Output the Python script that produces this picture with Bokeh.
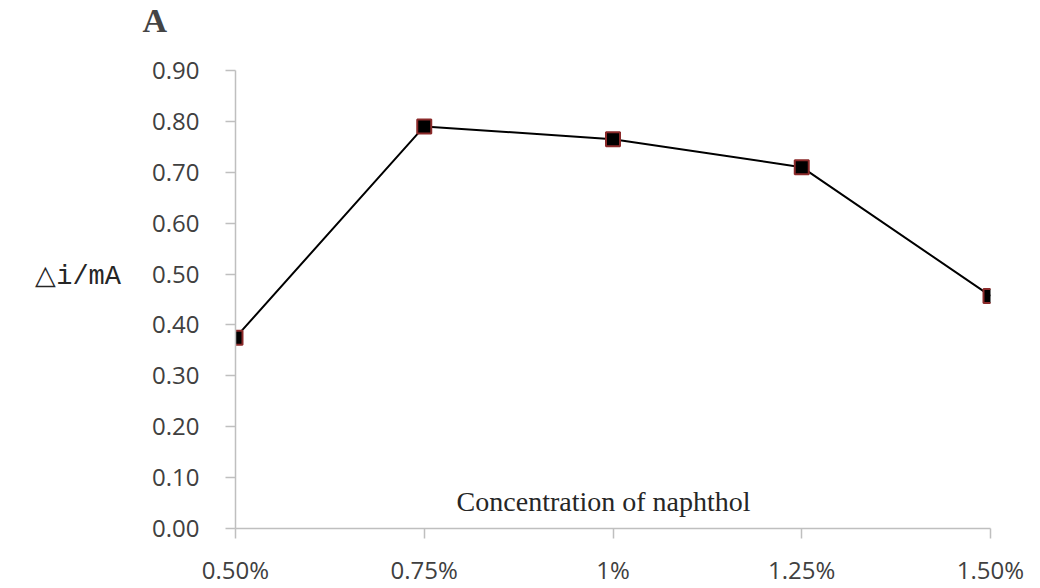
from bokeh.plotting import figure
from bokeh.models import Range1d, FixedTicker, Label
from bokeh.embed import file_html
from bokeh.resources import INLINE

categories = ["0.50%", "0.75%", "1%", "1.25%", "1.50%"]
delta_i = [0.375, 0.79, 0.765, 0.71, 0.457]
y_ticks = [0.0, 0.1, 0.2, 0.3, 0.4, 0.5, 0.6, 0.7, 0.8, 0.9]

xs = list(range(len(categories)))

# layout: frame extends above the top tick so the title can sit higher
frame_top, axis_top, frame_bottom = 40, 70, 529
y_max = y_ticks[-1] * (frame_bottom - frame_top) / (frame_bottom - axis_top)

p = figure(width=1024, height=588, output_backend="svg", toolbar_location=None,
           x_range=Range1d(0, len(categories) - 1), y_range=Range1d(0, y_max),
           min_border_left=235, min_border_right=34, min_border_top=frame_top,
           min_border_bottom=588 - frame_bottom)
p.outline_line_color = None
p.xgrid.grid_line_color = None
p.ygrid.grid_line_color = None
p.background_fill_color = "white"

p.title.text = "A"
p.title.text_font = "Liberation Serif"
p.title.text_font_style = "bold"
p.title.text_font_size = "34px"
p.title.align = "left"
p.title.vertical_align = "top"
p.title.offset = -93
p.title.standoff = 0

p.line(xs, delta_i, line_color="black", line_width=2)
p.scatter(xs, delta_i, marker="square", size=14, fill_color="black",
          line_color="#8b2a2a", line_width=2)

for ax in (p.xaxis[0], p.yaxis[0]):
    ax.axis_line_color = "#bfbfbf"
    ax.axis_line_width = 1.5
    ax.major_tick_line_color = "#bfbfbf"
    ax.major_tick_line_width = 1.5
    ax.major_tick_out = 10
    ax.major_tick_in = 0
    ax.minor_tick_line_color = None
    ax.major_label_text_font = "Open Sans"
    ax.major_label_text_font_size = "24px"
    ax.major_label_text_color = "#404040"

p.xaxis.ticker = FixedTicker(ticks=xs)
p.xaxis.major_label_overrides = {i: c for i, c in zip(xs, categories)}
p.xaxis.major_label_standoff = 14
p.yaxis.ticker = FixedTicker(ticks=y_ticks)
p.yaxis.bounds = (y_ticks[0], y_ticks[-1])
p.yaxis.major_label_overrides = {t: f"{t:.2f}" for t in y_ticks}
p.yaxis.major_label_standoff = 26

p.yaxis.axis_label = "\u25b3i/mA\n"
p.yaxis.axis_label_orientation = "horizontal"
p.yaxis.axis_label_text_font = "Liberation Mono"
p.yaxis.axis_label_text_font_style = "normal"
p.yaxis.axis_label_text_font_size = "27px"
p.yaxis.axis_label_text_line_height = 0.5
p.yaxis.axis_label_text_color = "#262626"
p.yaxis.axis_label_standoff = 28

p.add_layout(Label(x=1.95, y=0.053, text="Concentration of naphthol",
                   text_font="Liberation Serif", text_font_size="28px",
                   text_color="#262626", text_align="center", text_baseline="middle"))

open("out.html", "w").write(file_html(p, INLINE))
